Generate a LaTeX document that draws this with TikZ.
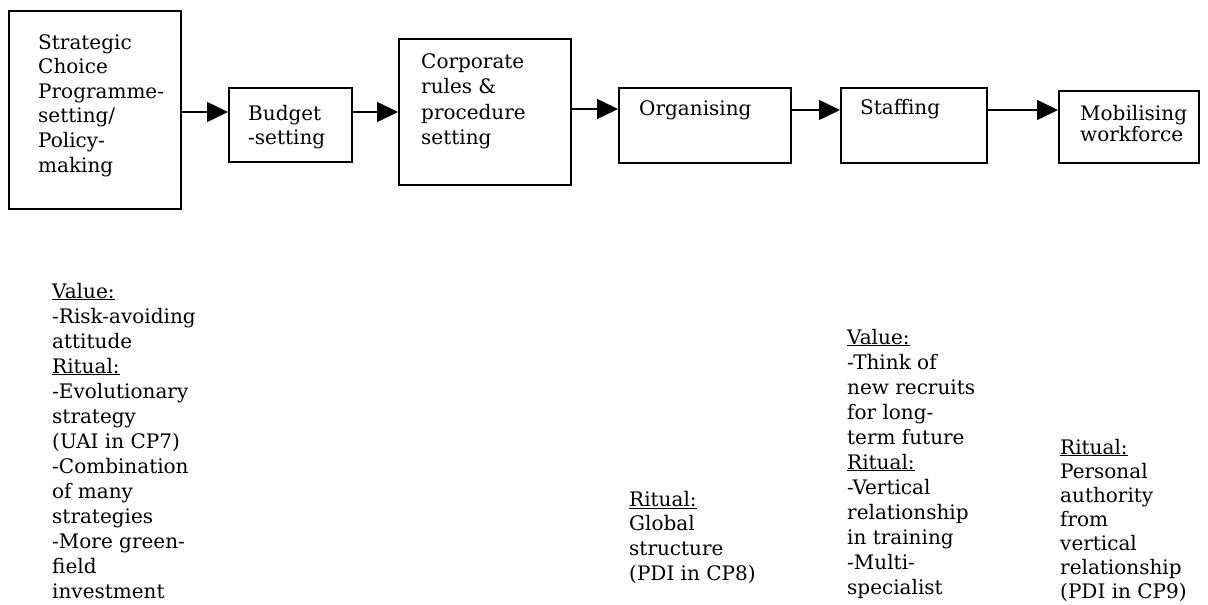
\documentclass[tikz,border=0pt]{standalone}
\usepackage{fontspec}
\setmainfont{DejaVu Serif}
\usetikzlibrary{arrows.meta}
\begin{document}
\begin{tikzpicture}[x=1pt,y=-1pt,
  box/.style={draw, line width=1.5pt, inner sep=0pt, anchor=north west},
  % multi-line labels are placed by the baseline of their last line
  txt/.style={inner sep=0pt, anchor=base west, align=left,
              font=\fontsize{20}{24.6}\selectfont},
  flow/.style={line width=1.5pt, -{Triangle[length=21pt,width=20pt]}}]
\useasboundingbox (0,0) rectangle (1208,605);

% process boxes
\node[box, minimum width=172pt, minimum height=198pt] (b1) at (8,10) {};
\node[box, minimum width=123pt, minimum height=74pt]  (b2) at (228,87) {};
\node[box, minimum width=172pt, minimum height=146pt] (b3) at (398,38) {};
\node[box, minimum width=172pt, minimum height=75pt]  (b4) at (618,87) {};
\node[box, minimum width=146pt, minimum height=75pt]  (b5) at (840,87) {};
\node[box, minimum width=140pt, minimum height=72pt]  (b6) at (1058,90) {};

% box labels
\node[txt] (t1) at (38,172) {Strategic\\Choice\\Programme-\\setting/\\Policy-\\making};
\node[txt] (t2) at (248,144.6) {Budget\\-setting};
\node[txt, font=\fontsize{20}{25.5}\selectfont] (t3) at (421,144.5) {Corporate\\rules \&\\procedure\\setting};
\node[txt] (t4) at (639,115) {Organising};
\node[txt] (t5) at (860,114) {Staffing};
\node[txt, font=\fontsize{20}{21}\selectfont] (t6) at (1080,141) {Mobilising\\workforce};

% connectors
\draw[flow] (b1.east |- 0,112) -- (b2.west |- 0,112);
\draw[flow] (b2.east |- 0,112) -- (b3.west |- 0,112);
\draw[flow] (b3.east |- 0,109) -- (b4.west |- 0,109);
\draw[flow] (b4.east |- 0,110) -- (b5.west |- 0,110);
\draw[flow] (b5.east |- 0,110) -- (b6.west |- 0,110);

% value and ritual notes
\node[txt, font=\fontsize{20}{25}\selectfont] (n1) at (52,598)
  {\underline{Value:}\\-Risk-avoiding\\attitude\\\underline{Ritual:}\\-Evolutionary\\strategy\\(UAI in CP7)\\-Combination\\of many\\strategies\\-More green-\\field\\investment};
\node[txt] (n2) at (629,580)
  {\underline{Ritual:}\\Global\\structure\\(PDI in CP8)};
\node[txt, font=\fontsize{20}{25}\selectfont] (n3) at (847,594)
  {\underline{Value:}\\-Think of\\new recruits\\for long-\\term future\\\underline{Ritual:}\\-Vertical\\relationship\\in training\\-Multi-\\specialist};
\node[txt, font=\fontsize{20}{24}\selectfont] (n4) at (1060,598)
  {\underline{Ritual:}\\Personal\\authority\\from\\vertical\\relationship\\(PDI in CP9)};
\end{tikzpicture}
\end{document}
